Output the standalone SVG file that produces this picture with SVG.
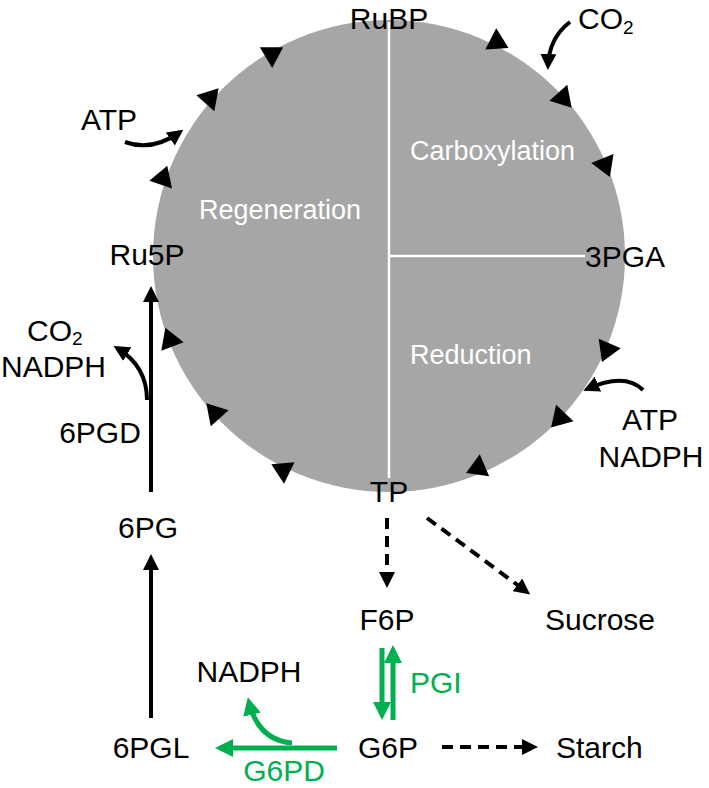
<svg xmlns="http://www.w3.org/2000/svg" xmlns:xlink="http://www.w3.org/1999/xlink" width="709" height="788" viewBox="0 0 709 788">
<style>
text{font-family:"Liberation Sans",Arial,sans-serif;font-size:30px;fill:#000}
.in{font-size:27px;fill:#fff}
.g{fill:#00B050}
.sub{font-size:19px}
.k{fill:none;stroke:#000;stroke-width:4}
.gr{fill:none;stroke:#00B050;stroke-width:5}
.d{fill:none;stroke:#000;stroke-width:4;stroke-dasharray:11 7}
</style>
<defs>
<path id="tri" d="M13,0 L-7,-12 L-7,12 Z" fill="#000"/>
<marker id="ak" markerUnits="userSpaceOnUse" markerWidth="16" markerHeight="16" refX="12" refY="8" orient="auto"><path d="M0,0 L16,8 L0,16 Z" fill="#000"/></marker>
<marker id="ag" markerUnits="userSpaceOnUse" markerWidth="18" markerHeight="18" refX="13" refY="9" orient="auto"><path d="M0,0 L18,9 L0,18 Z" fill="#00B050"/></marker>
</defs>

<g id="cycle">
<circle cx="389" cy="256" r="236" fill="#A6A6A6"/>
<line x1="389" y1="22" x2="389" y2="478" stroke="#fff" stroke-width="2.5"/>
<line x1="389" y1="256" x2="585" y2="256" stroke="#fff" stroke-width="2.5"/>
<text class="in" x="410" y="160">Carboxylation</text>
<text class="in" x="280" y="219" text-anchor="middle">Regeneration</text>
<text class="in" x="410" y="364">Reduction</text>
<use xlink:href="#tri" transform="translate(272,54) rotate(-31)"/>
<use xlink:href="#tri" transform="translate(210,98) rotate(-48.6)"/>
<use xlink:href="#tri" transform="translate(163,178) rotate(-71)"/>
<use xlink:href="#tri" transform="translate(170,340) rotate(249)"/>
<use xlink:href="#tri" transform="translate(215,413) rotate(228)"/>
<use xlink:href="#tri" transform="translate(283,470) rotate(206)"/>
<use xlink:href="#tri" transform="translate(478,468) rotate(157)"/>
<use xlink:href="#tri" transform="translate(560,418) rotate(133.5)"/>
<use xlink:href="#tri" transform="translate(607,350) rotate(113)"/>
<use xlink:href="#tri" transform="translate(605,165) rotate(68)"/>
<use xlink:href="#tri" transform="translate(563,98) rotate(48)"/>
<use xlink:href="#tri" transform="translate(497,42) rotate(27)"/>
</g>

<g id="connectors">
<path class="k" d="M570,22 Q549,38 548,66" marker-end="url(#ak)"/>
<path class="k" d="M125,142 Q152,152 180,132" marker-end="url(#ak)"/>
<path class="k" d="M643,390 Q625,372 587,389" marker-end="url(#ak)"/>
<path class="k" d="M147,400 Q147,366 117,348" marker-end="url(#ak)"/>
<line class="k" x1="151" y1="492" x2="151" y2="290" marker-end="url(#ak)"/>
<line class="k" x1="151" y1="718" x2="151" y2="558" marker-end="url(#ak)"/>
<line class="d" x1="387" y1="518" x2="387" y2="584" marker-end="url(#ak)"/>
<line class="d" x1="427" y1="518" x2="527" y2="592" marker-end="url(#ak)"/>
<line class="d" x1="442" y1="747" x2="534" y2="747" marker-end="url(#ak)"/>
<line class="gr" x1="382" y1="648" x2="382" y2="715" marker-end="url(#ag)"/>
<line class="gr" x1="393" y1="720" x2="393" y2="650" marker-end="url(#ag)"/>
<line class="gr" x1="337" y1="748" x2="220" y2="748" marker-end="url(#ag)"/>
<path class="gr" d="M292,743 Q258,740 249,702" marker-end="url(#ag)"/>
</g>

<g id="RuBP"><text x="389" y="29" text-anchor="middle">RuBP</text></g>
<g id="CO2-top"><text x="578" y="29">CO<tspan class="sub" dy="5">2</tspan></text></g>
<g id="ATP-left"><text x="81" y="130">ATP</text></g>
<g id="Ru5P"><text x="147" y="265" text-anchor="middle">Ru5P</text></g>
<g id="3PGA"><text x="585" y="267">3PGA</text></g>
<g id="CO2-NADPH"><text x="27" y="341">CO<tspan class="sub" dy="4">2</tspan></text><text x="1" y="377">NADPH</text></g>
<g id="ATP-NADPH-right"><text x="650" y="430" text-anchor="middle">ATP</text><text x="651" y="467" text-anchor="middle">NADPH</text></g>
<g id="6PGD"><text x="100" y="443" text-anchor="middle">6PGD</text></g>
<g id="TP"><text x="389" y="502" text-anchor="middle">TP</text></g>
<g id="6PG"><text x="148" y="538" text-anchor="middle">6PG</text></g>
<g id="F6P"><text x="387" y="630" text-anchor="middle">F6P</text></g>
<g id="Sucrose"><text x="545" y="630">Sucrose</text></g>
<g id="PGI"><text class="g" x="410" y="693">PGI</text></g>
<g id="NADPH-bottom"><text x="249" y="682" text-anchor="middle">NADPH</text></g>
<g id="6PGL"><text x="151" y="758" text-anchor="middle">6PGL</text></g>
<g id="G6P"><text x="388" y="758" text-anchor="middle">G6P</text></g>
<g id="Starch"><text x="556" y="758">Starch</text></g>
<g id="G6PD"><text class="g" x="284" y="781" text-anchor="middle">G6PD</text></g>
</svg>
